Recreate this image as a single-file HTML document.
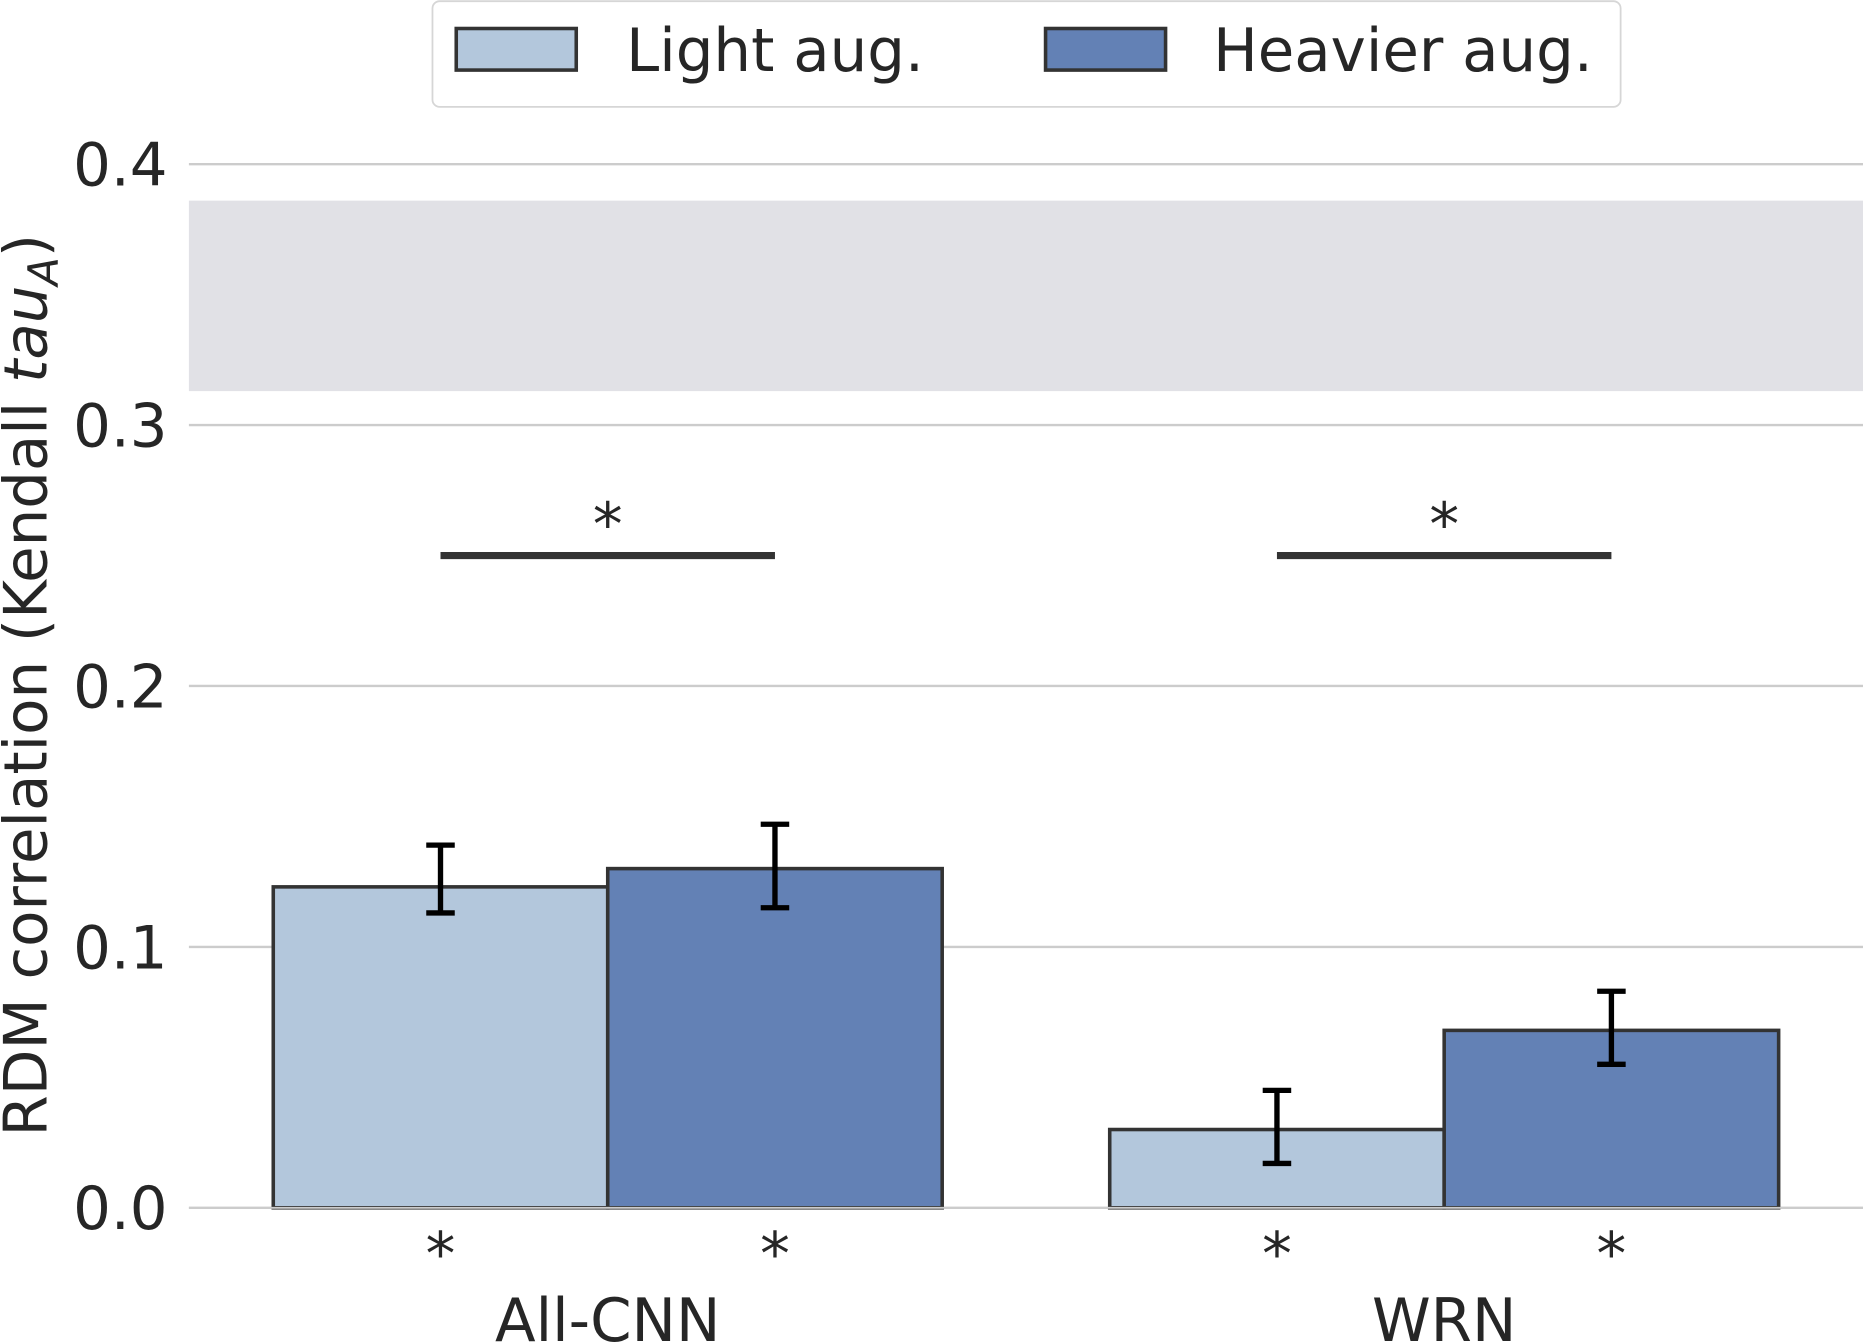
<!DOCTYPE html>
<html><head><meta charset="utf-8"><style>html,body{margin:0;padding:0;background:#fff;}svg{display:block;}text{font-family:"DejaVu Sans","Liberation Sans",sans-serif;fill:#262626;}</style></head>
<body>
<svg id="chart" width="1863" height="1342" viewBox="0 0 1568 1130" preserveAspectRatio="none" xmlns="http://www.w3.org/2000/svg"></svg>
<script>
const categories = ["All-CNN", "WRN"];
const seriesNames = ["Light aug.", "Heavier aug."];
const lightValues = [0.123, 0.030];
const heavyValues = [0.130, 0.068];
const lightErrLow = [0.113, 0.017];
const lightErrHigh = [0.139, 0.045];
const heavyErrLow = [0.115, 0.055];
const heavyErrHigh = [0.147, 0.083];
const yTicks = [0.0, 0.1, 0.2, 0.3, 0.4];
const yTickLabels = ["0.0", "0.1", "0.2", "0.3", "0.4"];
const ceilingBand = [0.313, 0.386];
const sigLineValue = [0.25, 0.25];

const NS = "http://www.w3.org/2000/svg";
const svg = document.getElementById('chart');
const plotL = 159, plotR = 1568;
function y(v){ return 1017 - v * 2197; }
function x(catIdx, seriesIdx){ return 230 + catIdx * 704 + seriesIdx * 281.5; }
const barW = 281.5;
function mk(tag, attrs, parent){ const e = document.createElementNS(NS, tag); for (const k in attrs) e.setAttribute(k, attrs[k]); (parent||svg).appendChild(e); return e; }

yTicks.forEach((t,i)=>{
  const g = mk('line',{x1:plotL,x2:plotR,y1:y(t),y2:y(t),stroke:'#cccccc','stroke-width':2});
  
  
  const tl = mk('text',{x:141,y:y(t)+18,'text-anchor':'end','font-size':50});
  tl.textContent = yTickLabels[i];
  
  
});
const band = mk('rect',{x:plotL,y:y(ceilingBand[1]),width:plotR-plotL,height:y(ceilingBand[0])-y(ceilingBand[1]),fill:'#e1e1e6'});



const colors = ['#b3c7dc', '#6381b5'];
const vals = [lightValues, heavyValues];
const lows = [lightErrLow, heavyErrLow];
const highs = [lightErrHigh, heavyErrHigh];
categories.forEach((c,ci)=>{
  [0,1].forEach(si=>{
    const v = vals[si][ci];
    const bx = x(ci,si);
    const r = mk('rect',{x:bx,y:y(v),width:barW,height:y(0)-y(v),fill:colors[si],stroke:'#333333','stroke-width':3});
    
    
    const cx = bx + barW/2;
    const eg = mk('g',{stroke:'#000','stroke-width':4.5});
    
    
    mk('line',{x1:cx,x2:cx,y1:y(lows[si][ci]),y2:y(highs[si][ci])},eg);
    mk('line',{x1:cx-12,x2:cx+12,y1:y(lows[si][ci]),y2:y(lows[si][ci])},eg);
    mk('line',{x1:cx-12,x2:cx+12,y1:y(highs[si][ci]),y2:y(highs[si][ci])},eg);
    const st = mk('text',{x:cx,y:1073,'text-anchor':'middle','font-size':50});
    st.textContent='*';
    
    
  });
  const x1 = x(ci,0)+barW/2, x2 = x(ci,1)+barW/2;
  const sl = mk('line',{x1:x1,x2:x2,y1:y(sigLineValue[ci]),y2:y(sigLineValue[ci]),stroke:'#333333','stroke-width':6});
  
  
  const ss = mk('text',{x:(x1+x2)/2,y:y(sigLineValue[ci])-9,'text-anchor':'middle','font-size':50});
  ss.textContent='*';
  
  
  const cl = mk('text',{x:x(ci,1),y:1129,'text-anchor':'middle','font-size':50});
  cl.textContent=c;
  
  
});
const base = mk('line',{x1:plotL,x2:plotR,y1:y(0),y2:y(0),stroke:'#cccccc','stroke-width':1.5});


</script>
<svg style="position:absolute;left:0;top:0" width="1863" height="1342" viewBox="0 0 1568 1130" preserveAspectRatio="none" xmlns="http://www.w3.org/2000/svg">
  <text transform="translate(39,577) rotate(-90)" text-anchor="middle" font-size="50">RDM correlation (Kendall <tspan font-style="italic">tau</tspan><tspan font-style="italic" font-size="35" dy="10">A</tspan><tspan dy="-10">)</tspan></text>
  <g>
    <rect x="364" y="1" width="1000" height="89" rx="6" fill="#fff" stroke="#d6d6d6" stroke-width="1.5"/>
    <rect x="384" y="24" width="101" height="35" fill="#b3c7dc" stroke="#333" stroke-width="3"/>
    <text x="527" y="60" font-size="50">Light aug.</text>
    <rect x="880" y="24" width="101" height="35" fill="#6381b5" stroke="#333" stroke-width="3"/>
    <text x="1021" y="60" font-size="50">Heavier aug.</text>
  </g>
</svg>
</body></html>
